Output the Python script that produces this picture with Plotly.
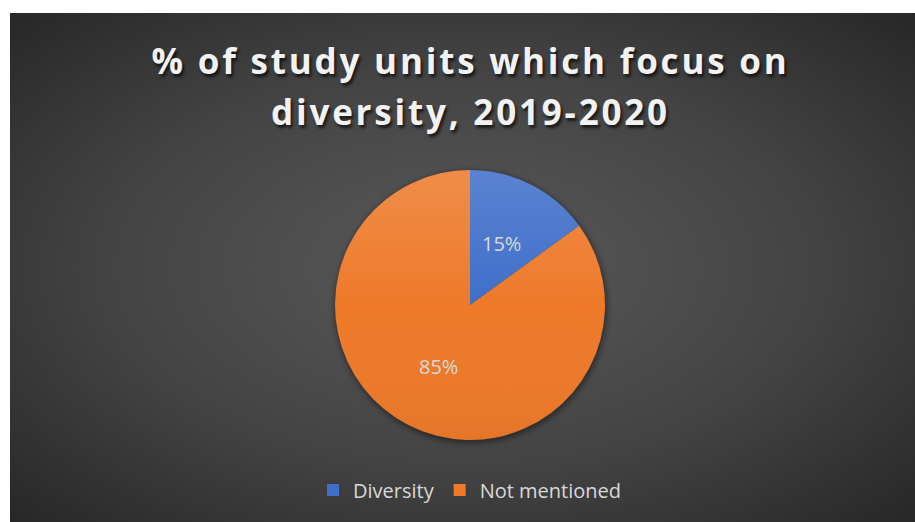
import base64
import math
import plotly.graph_objects as go

# Share of study units, 2019-2020
labels = ["Diversity", "Not mentioned"]
values = [15, 85]
colors = ["#3F6FCA", "#EE7A2A"]

title_lines = ["% of study units which focus on", "diversity, 2019-2020"]

W, H = 915, 522
ML, MT = 10, 13  # white page border around the dark chart area
PW, PH = W - ML, H - MT

# pie placement in pixels
cx, cy, r = 470, 305, 135


def svg_uri(svg):
    return "data:image/svg+xml;base64," + base64.b64encode(svg.encode()).decode()


# dark radial backdrop for the chart area, with a soft shadow under the pie
bg_svg = f"""<svg xmlns='http://www.w3.org/2000/svg' width='{PW}' height='{PH}' viewBox='0 0 {PW} {PH}' preserveAspectRatio='none'>
<defs>
<radialGradient id='g' cx='0.5' cy='0.5' r='0.72' gradientUnits='objectBoundingBox'>
<stop offset='0' stop-color='#5a5a5a'/>
<stop offset='0.55' stop-color='#434343'/>
<stop offset='1' stop-color='#262626'/>
</radialGradient>
<filter id='b' x='-20%' y='-20%' width='140%' height='140%'><feGaussianBlur stdDeviation='3'/></filter>
</defs>
<rect x='0' y='0' width='{PW}' height='{PH}' fill='url(#g)'/>
<circle cx='{cx - ML + 1}' cy='{cy - MT + 2}' r='{r + 1}' fill='#000' fill-opacity='0.45' filter='url(#b)'/>
</svg>"""

# subtle top-to-bottom sheen over the pie
sheen_svg = f"""<svg xmlns='http://www.w3.org/2000/svg' width='{2 * r}' height='{2 * r}' viewBox='0 0 {2 * r} {2 * r}'>
<defs>
<linearGradient id='s' x1='0' y1='0' x2='0' y2='1'>
<stop offset='0' stop-color='#ffffff' stop-opacity='0.14'/>
<stop offset='0.5' stop-color='#ffffff' stop-opacity='0.0'/>
<stop offset='1' stop-color='#000000' stop-opacity='0.04'/>
</linearGradient>
</defs>
<circle cx='{r}' cy='{r}' r='{r}' fill='url(#s)'/>
</svg>"""

dom_x = [(cx - r - ML) / PW, (cx + r - ML) / PW]
dom_y = [(H - (cy + r)) / PH, (H - (cy - r)) / PH]

fig = go.Figure(
    go.Pie(
        labels=labels,
        values=values,
        sort=False,
        direction="clockwise",
        rotation=0,
        marker=dict(colors=colors, line=dict(width=0)),
        textinfo="none",
        domain=dict(x=dom_x, y=dom_y),
        hoverinfo="label+percent",
    )
)

# percentage labels, placed halfway out along each slice's middle angle
total = sum(values)
start = 0.0
for v in values:
    frac = v / total
    mid = (start + frac / 2) * 2 * math.pi
    start += frac
    lx = cx + 0.51 * r * math.sin(mid)
    ly = cy - 0.51 * r * math.cos(mid)
    fig.add_annotation(
        text=f"{frac * 100:.0f}%",
        xref="paper", yref="paper",
        x=(lx - ML) / PW, y=(H - ly) / PH,
        xanchor="center", yanchor="middle",
        showarrow=False,
        font=dict(family="Open Sans", size=20, color="#D9D9D9"),
    )

# two-line chart title
for line, ypix in zip(title_lines, [61, 112]):
    fig.add_annotation(
        text=line,
        xref="paper", yref="paper",
        x=(470 - ML) / PW, y=(H - ypix) / PH,
        xanchor="center", yanchor="middle",
        showarrow=False,
        font=dict(family="Open Sans", size=35, color="#F2F2F2", weight="bold",
                  shadow="2px 3px 3px rgba(0,0,0,0.65)"),
    )

fig.update_layout(
    width=W, height=H,
    margin=dict(l=ML, r=0, t=MT, b=0),
    paper_bgcolor="white",
    plot_bgcolor="rgba(0,0,0,0)",
    images=[
        dict(source=svg_uri(bg_svg), xref="paper", yref="paper", x=0, y=1,
             sizex=1, sizey=1, xanchor="left", yanchor="top",
             sizing="stretch", layer="below"),
        dict(source=svg_uri(sheen_svg), xref="paper", yref="paper",
             x=dom_x[0], y=dom_y[1], sizex=dom_x[1] - dom_x[0],
             sizey=dom_y[1] - dom_y[0], xanchor="left", yanchor="top",
             sizing="stretch", layer="above"),
    ],
    showlegend=True,
    legend=dict(
        orientation="h",
        x=(470 - ML) / PW, xanchor="center",
        y=(H - 490) / PH, yanchor="middle",
        font=dict(family="Open Sans", size=20, color="#D9D9D9"),
        bgcolor="rgba(0,0,0,0)",
        itemwidth=30,
        traceorder="normal",
    ),
)

# widen the title's character spacing
spacing_js = """
var gd = document.getElementById('{plot_id}');
function spaceTitle() {
  gd.querySelectorAll('.annotation-text').forEach(function (t) {
    if (t.textContent.length > 10) { t.style.letterSpacing = '2.8px'; }
  });
}
spaceTitle();
gd.on('plotly_afterplot', spaceTitle);
"""

fig.write_html("out.html", post_script=spacing_js)
